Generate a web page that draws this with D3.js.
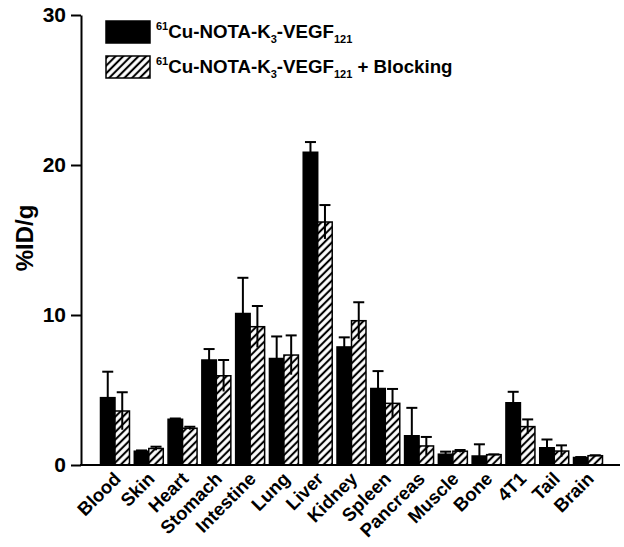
<!DOCTYPE html>
<html>
<head>
<meta charset="utf-8">
<script src="https://cdn.jsdelivr.net/npm/d3@7"></script>
<style>
  html, body { margin: 0; padding: 0; background: #fff; }
  text { font-family: Arial, "Liberation Sans", sans-serif; font-weight: bold; }
</style>
</head>
<body>
<svg id="chart" width="624" height="547"></svg>
<script>
const categories = ["Blood","Skin","Heart","Stomach","Intestine","Lung","Liver","Kidney","Spleen","Pancreas","Muscle","Bone","4T1","Tail","Brain"];
const seriesNames = ["noblock", "block"];
const noBlockValues = [4.49, 0.92, 3.05, 7.0, 10.1, 7.1, 20.85, 7.87, 5.1, 1.95, 0.72, 0.6, 4.15, 1.15, 0.5];
const noBlockSD     = [1.73, 0.05, 0.05, 0.73, 2.38, 1.47, 0.68, 0.64, 1.16, 1.86, 0.17, 0.78, 0.73, 0.55, 0.03];
const blockValues   = [3.6, 1.1, 2.45, 5.95, 9.22, 7.33, 16.2, 9.62, 4.11, 1.27, 0.92, 0.69, 2.56, 0.93, 0.62];
const blockSD       = [1.25, 0.12, 0.1, 1.05, 1.38, 1.31, 1.13, 1.23, 0.96, 0.6, 0.08, 0.02, 0.48, 0.38, 0.03];
const yTicks = [0, 10, 20, 30];

const svg = d3.select("#chart");

// hatch pattern
const defs = svg.append("defs");
const pat = defs.append("pattern")
  .attr("id", "hatch")
  .attr("patternUnits", "userSpaceOnUse")
  .attr("width", 5.4).attr("height", 5.4)
  .attr("patternTransform", "rotate(45)");
pat.append("rect").attr("width", 5.4).attr("height", 5.4).attr("fill", "#fff");
pat.append("line").attr("x1", 2.7).attr("y1", -1).attr("x2", 2.7).attr("y2", 7)
  .attr("stroke", "#000").attr("stroke-width", 2.1);

const y = d3.scaleLinear().domain([0, 30]).range([465, 15]);
const x = d3.scaleBand().domain(categories).range([98.1, 604.9])
  .paddingInner(0.142).paddingOuter(0.071);
const xs = d3.scaleBand().domain(seriesNames).range([0, x.bandwidth()]);

const data = categories.map((c, i) => ({
  cat: c,
  vals: [
    { s: "noblock", v: noBlockValues[i], sd: noBlockSD[i] },
    { s: "block", v: blockValues[i], sd: blockSD[i] }
  ]
}));

const groups = svg.append("g").selectAll("g").data(data).join("g")
  .attr("transform", d => `translate(${x(d.cat)},0)`);

groups.selectAll("rect").data(d => d.vals).join("rect")
  .attr("x", d => xs(d.s))
  .attr("y", d => y(d.v))
  .attr("width", xs.bandwidth())
  .attr("height", d => y(0) - y(d.v))
  .attr("fill", d => d.s === "noblock" ? "#000" : "url(#hatch)")
  .attr("stroke", "#000")
  .attr("stroke-width", 1.5);

const err = groups.selectAll("g.err").data(d => d.vals).join("g").attr("class", "err");
err.append("line")
  .attr("x1", d => xs(d.s) + xs.bandwidth() / 2)
  .attr("x2", d => xs(d.s) + xs.bandwidth() / 2)
  .attr("y1", d => y(Math.max(0, d.v - d.sd)))
  .attr("y2", d => y(d.v + d.sd))
  .attr("stroke", "#000").attr("stroke-width", 2);
err.append("line")
  .attr("x1", d => xs(d.s) + xs.bandwidth() / 2 - 5.5)
  .attr("x2", d => xs(d.s) + xs.bandwidth() / 2 + 5.5)
  .attr("y1", d => y(d.v + d.sd))
  .attr("y2", d => y(d.v + d.sd))
  .attr("stroke", "#000").attr("stroke-width", 2);

// y axis
const yAxis = svg.append("g").attr("transform", "translate(81,0)")
  .call(d3.axisLeft(y).tickValues(yTicks).tickSize(10).tickSizeOuter(0).tickPadding(5));
yAxis.select(".domain").attr("stroke", "#000").attr("stroke-width", 2);
yAxis.selectAll(".tick line").attr("stroke", "#000").attr("stroke-width", 2);
yAxis.selectAll(".tick text").attr("font-size", 21).attr("font-family", "Arial, 'Liberation Sans', sans-serif")
  .attr("font-weight", "bold").attr("fill", "#000");

// x axis line
svg.append("line").attr("x1", 80).attr("x2", 620).attr("y1", 465).attr("y2", 465)
  .attr("stroke", "#000").attr("stroke-width", 2);

// x labels (rotated -45 degrees about their anchor)
svg.append("g").attr("class", "xlabels").selectAll("text").data(categories).join("text")
  .attr("x", d => x(d) + x.bandwidth() / 2 + 7)
  .attr("y", 480)
  .attr("transform", d => "rotate(-45 " + (x(d) + x.bandwidth() / 2 + 7) + " 480)")
  .attr("text-anchor", "end")
  .attr("font-size", 18.5)
  .text(d => d);

// y title
svg.append("text")
  .attr("transform", "translate(33,238) rotate(-90)")
  .attr("text-anchor", "middle")
  .attr("font-size", 24)
  .text("%ID/g");

// legend
const leg = svg.append("g");
const legItems = [
  { fill: "#000", y: 21, extra: "" },
  { fill: "url(#hatch)", y: 56, extra: " + Blocking" }
];
legItems.forEach(it => {
  leg.append("rect").attr("x", 106).attr("y", it.y).attr("width", 44).attr("height", 22)
    .attr("fill", it.fill).attr("stroke", "#000").attr("stroke-width", 1.5);
  const t = leg.append("text").attr("x", 156).attr("y", it.y + 17).attr("font-size", 18.7);
  t.append("tspan").attr("font-size", 11).attr("dy", -8).text("61");
  t.append("tspan").attr("dy", 8).text("Cu-NOTA-K");
  t.append("tspan").attr("font-size", 11).attr("dy", 5).text("3");
  t.append("tspan").attr("dy", -5).text("-VEGF");
  t.append("tspan").attr("font-size", 11).attr("dy", 5).text("121");
  if (it.extra) t.append("tspan").attr("dy", -5).text(it.extra);
});
</script>
</body>
</html>
